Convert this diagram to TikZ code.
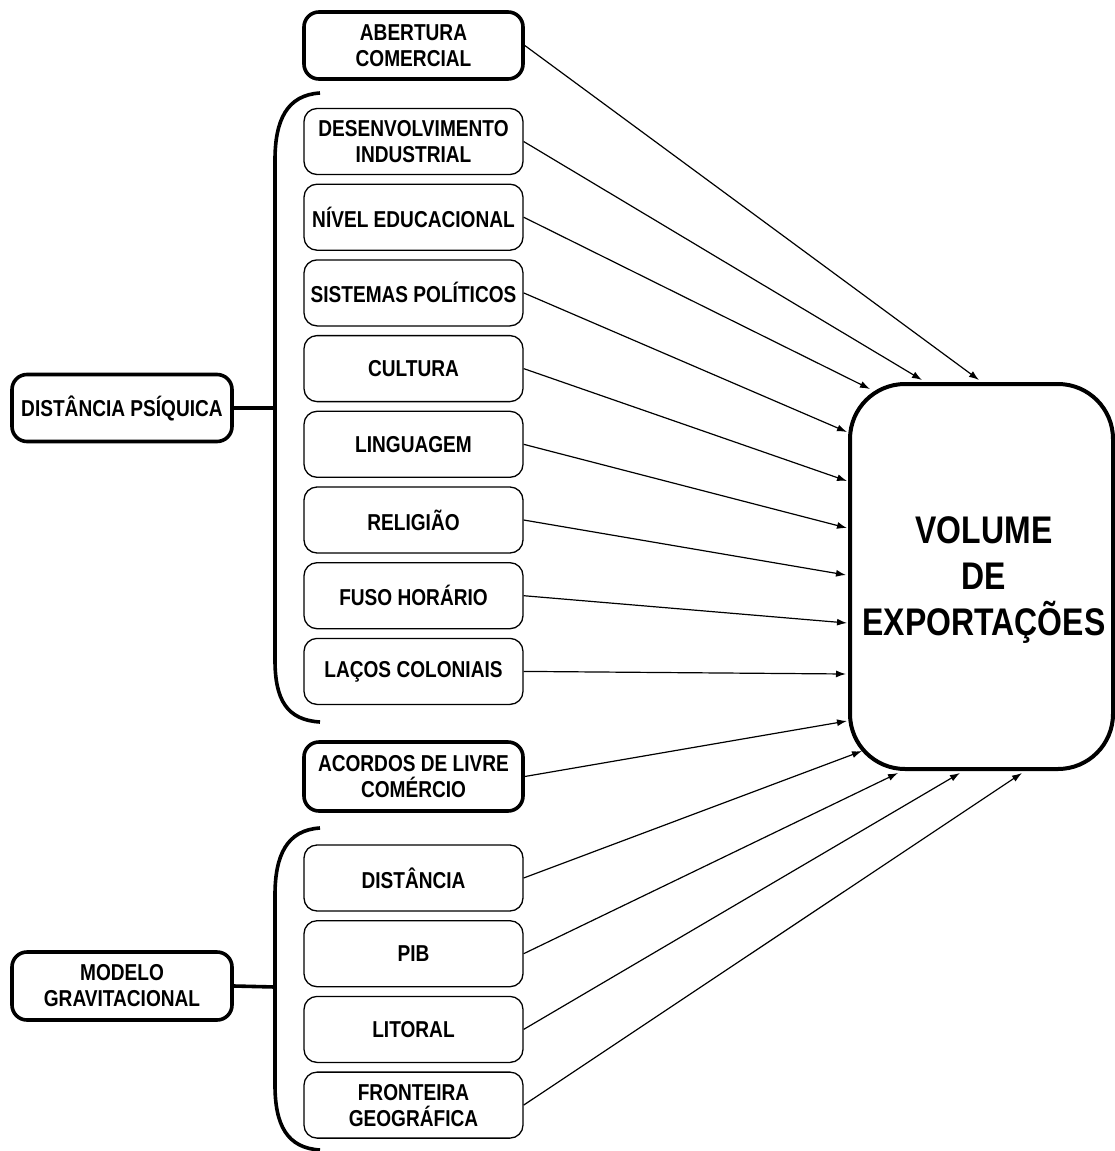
\documentclass[tikz,border=0pt]{standalone}
\usepackage{fontspec}
\setmainfont{Liberation Sans}[FakeStretch=0.83]
\usetikzlibrary{arrows.meta}
\begin{document}
\begin{tikzpicture}[x=1pt,y=-1pt,
  factor/.style={draw=black,line width=1.3pt,rounded corners=13pt,fill=white,
    minimum width=219pt,minimum height=66pt,inner sep=0pt,align=center,
    font=\bfseries\fontsize{23}{26}\selectfont},
  keyfactor/.style={factor,line width=3.6pt,rounded corners=15pt},
  group/.style={keyfactor,minimum width=220pt,minimum height=67pt},
  outcome/.style={draw=black,line width=4pt,rounded corners=55pt,
    minimum width=263pt,minimum height=385pt,inner sep=0pt,align=center,
    font=\bfseries\fontsize{38.5}{46}\selectfont},
  brace/.style={line width=3.6pt},
  link/.style={line width=1.2pt,-{Latex[length=10pt,width=7pt]}}]
\useasboundingbox (0,0) rectangle (1115,1151);

% outcome
\node[outcome] (vol) at (981.5,576.5) {};
\node[font=\bfseries\fontsize{38.5}{46}\selectfont,align=center] (voltext)
  at (984,580) {VOLUME\\DE\\EXPORTAÇÕES};

% standalone factors
\node[keyfactor,minimum height=67pt] (abertura) at (413.5,45.5) {ABERTURA\\COMERCIAL};
\node[keyfactor,minimum height=69pt] (acordos) at (413.5,776.5) {ACORDOS DE LIVRE\\COMÉRCIO};

% psychic distance factors
\node[factor] (desenv)  at (413.5,141.5) {DESENVOLVIMENTO\\INDUSTRIAL};
\node[factor] (nivel)   at (413.5,217.2) {NÍVEL EDUCACIONAL};
\node[factor] (sist)    at (413.5,292.9) {SISTEMAS POLÍTICOS};
\node[factor] (cultura) at (413.5,368.6) {CULTURA};
\node[factor] (ling)    at (413.5,444.3) {LINGUAGEM};
\node[factor] (relig)   at (413.5,520.0) {RELIGIÃO};
\node[factor] (fuso)    at (413.5,595.7) {FUSO HORÁRIO};
\node[factor] (lacos)   at (413.5,671.4) {LAÇOS COLONIAIS};

% gravity model factors
\node[factor] (dist)    at (413.5,878.0) {DISTÂNCIA};
\node[factor] (pib)     at (413.5,953.7) {PIB};
\node[factor] (lit)     at (413.5,1029.4) {LITORAL};
\node[factor] (front)   at (413.5,1105.1) {FRONTEIRA\\GEOGRÁFICA};

% group labels
\node[group] (psiq) at (122,408) {DISTÂNCIA PSÍQUICA};
\node[group,minimum height=68pt] (grav) at (122,986) {MODELO\\GRAVITACIONAL};

% braces
\coordinate (psiqmid) at (275,408);
\coordinate (gravmid) at (275,987);
\draw[brace] (320,93) .. controls (287,95) and (275,120) .. (275,160)
  -- (275,660) .. controls (275,700) and (287,720) .. (320,722);
\draw[brace] (320,828) .. controls (287,830) and (275,855) .. (275,895)
  -- (275,1085) .. controls (275,1125) and (287,1148) .. (320,1150);
\draw[brace] (psiq.east) -- (psiqmid);
\draw[brace] (grav.east) -- (gravmid);

% arrow tips around the outcome box
\coordinate (t1)  at (979,380);
\coordinate (t2)  at (922,380);
\coordinate (t3)  at (870,389);
\coordinate (t4)  at (847,432);
\coordinate (t5)  at (847,481);
\coordinate (t6)  at (847,528);
\coordinate (t7)  at (846,575);
\coordinate (t8)  at (847,623);
\coordinate (t9)  at (846,674);
\coordinate (t10) at (847,721);
\coordinate (t11) at (862,751);
\coordinate (t12) at (898,773);
\coordinate (t13) at (960,773);
\coordinate (t14) at (1022,773);

\draw[link] (abertura.east) -- (t1);
\draw[link] (desenv.east)   -- (t2);
\draw[link] (nivel.east)    -- (t3);
\draw[link] (sist.east)     -- (t4);
\draw[link] (cultura.east)  -- (t5);
\draw[link] (ling.east)     -- (t6);
\draw[link] (relig.east)    -- (t7);
\draw[link] (fuso.east)     -- (t8);
\draw[link] (lacos.east)    -- (t9);
\draw[link] (acordos.east)  -- (t10);
\draw[link] (dist.east)     -- (t11);
\draw[link] (pib.east)      -- (t12);
\draw[link] (lit.east)      -- (t13);
\draw[link] (front.east)    -- (t14);
\end{tikzpicture}
\end{document}
